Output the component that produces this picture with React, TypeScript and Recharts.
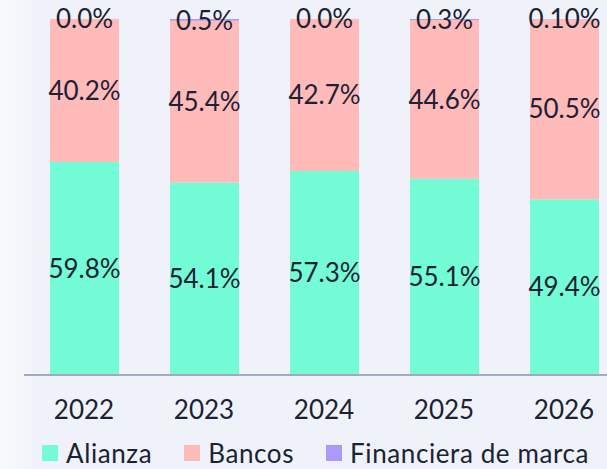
import { BarChart, Bar, XAxis, YAxis, LabelList } from 'recharts';

const years = ['2022', '2023', '2024', '2025', '2026'];
const alianza = [59.8, 54.1, 57.3, 55.1, 49.4];
const bancos = [40.2, 45.4, 42.7, 44.6, 50.5];
const financiera = [0.0, 0.5, 0.0, 0.3, 0.1];
const financieraLabels = ['0.0%', '0.5%', '0.0%', '0.3%', '0.10%'];

const series = [
  { key: 'alianza', name: 'Alianza', color: '#74fcd6' },
  { key: 'bancos', name: 'Bancos', color: '#ffbaba' },
  { key: 'financiera', name: 'Financiera de marca', color: '#ac9afa' },
];

const data = years.map((year, i) => ({
  year,
  alianza: alianza[i],
  bancos: bancos[i],
  financiera: financiera[i],
  finLabel: financieraLabels[i],
}));

const FONT = 'Lato, sans-serif';
const TEXT = '#1b2233';
const SIZE = 26;

const pct = (v: number) => `${v.toFixed(1)}%`;

// label for the (often zero-height) top segment, drawn at the top of the stack
const topLabel = (props: any) => {
  const { x, y, width, value } = props;
  return (
    <text
      x={Number(x) + Number(width) / 2}
      y={Number(y) - 1}
      textAnchor="middle"
      dominantBaseline="central"
      fill={TEXT}
      fontSize={SIZE}
      fontFamily={FONT}
    >
      {value}
    </text>
  );
};

export default function App() {
  return (
    <div
      style={{
        position: 'absolute',
        left: 0,
        top: 0,
        width: 607,
        height: 469,
        overflow: 'hidden',
        background: 'linear-gradient(to right, #f9fafc 0px, #eff2f8 40px, #eff2f8 100%)',
      }}
    >
      <BarChart width={624} height={469} data={data} margin={{ top: 19, right: 0, bottom: 34, left: 24 }} barSize={69}>
        <XAxis
          dataKey="year"
          tickLine={false}
          tickSize={0}
          tickMargin={26}
          height={60}
          stroke="#a2a9c1"
          strokeWidth={2}
          tick={{ fill: TEXT, fontSize: SIZE, fontFamily: FONT }}
        />
        <YAxis hide domain={[0, 100]} />
        <Bar dataKey="alianza" stackId="a" fill="#74fcd6" isAnimationActive={false}>
          <LabelList dataKey="alianza" position="center" formatter={(v: any) => pct(Number(v))} fill={TEXT} fontSize={SIZE} fontFamily={FONT} />
        </Bar>
        <Bar dataKey="bancos" stackId="a" fill="#ffbaba" isAnimationActive={false}>
          <LabelList dataKey="bancos" position="center" formatter={(v: any) => pct(Number(v))} fill={TEXT} fontSize={SIZE} fontFamily={FONT} />
          <LabelList dataKey="finLabel" content={topLabel} />
        </Bar>
        <Bar dataKey="financiera" stackId="a" fill="#ac9afa" isAnimationActive={false} />
      </BarChart>
      <div
        style={{
          position: 'absolute',
          left: 42,
          top: 438,
          height: 30,
          width: 560,
          display: 'flex',
          alignItems: 'center',
          whiteSpace: 'nowrap',
          fontFamily: FONT,
          fontSize: SIZE,
          letterSpacing: 0.6,
          color: TEXT,
        }}
      >
        {series.map((s) => (
          <div key={s.key} style={{ display: 'flex', alignItems: 'center', marginRight: 32, flexShrink: 0 }}>
            <span style={{ width: 16, height: 16, background: s.color, display: 'inline-block', marginRight: 8, flexShrink: 0 }} />
            <span>{s.name}</span>
          </div>
        ))}
      </div>
    </div>
  );
}
